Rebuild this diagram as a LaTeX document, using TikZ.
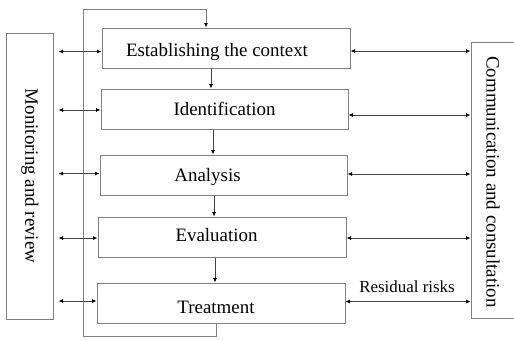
\documentclass[tikz,border=0pt]{standalone}
\usepackage{fontspec}
\setmainfont{Liberation Serif}
\usetikzlibrary{arrows.meta}
\definecolor{boxgray}{gray}{0.5}
\definecolor{linegray}{gray}{0.25}

\begin{document}
\begin{tikzpicture}[x=1bp,y=-1bp,
	stepbox/.style={draw=boxgray,line width=1bp,minimum width=248bp,minimum height=40bp,inner sep=0pt},
	sidebox/.style={draw=boxgray,line width=1bp,inner sep=0pt},
	steptext/.style={font=\fontsize{19}{22}\selectfont,inner sep=0pt},
	link/.style={draw=linegray,line width=0.8bp,{Latex[length=4.5bp,width=4bp,color=black]}-{Latex[length=4.5bp,width=4bp,color=black]}},
	flow/.style={draw=linegray,line width=0.8bp,-{Latex[length=4.5bp,width=4bp,color=black]}}]
		\useasboundingbox (0,0) rectangle (514,339);
		\clip (0,0) rectangle (514,339);

		\node[stepbox,label={[steptext,xshift=-9bp,yshift=-3.5bp]center:Establishing the context}] (Ctx) at (226,48) {};
		\node[stepbox,minimum width=247bp,label={[steptext]center:Identification}] (Idf) at (224.5,109) {};
		\node[stepbox,minimum width=247bp,label={[steptext,xshift=-16bp,yshift=-2bp]center:Analysis}] (Ana) at (223.5,175) {};
		\node[stepbox,label={[steptext,xshift=-5.5bp,yshift=2bp]center:Evaluation}] (Eva) at (222,237) {};
		\node[stepbox,label={[steptext,xshift=-5bp,yshift=-4bp]center:Treatment}] (Trt) at (221,303) {};

		\node[sidebox,minimum width=46bp,minimum height=286bp,label={[steptext,rotate=-90]center:Monitoring and review}] (Mon) at (30,176) {};
		% right side runs off the page
		\node[sidebox,minimum width=50bp,minimum height=276bp,label={[steptext,xshift=-3bp,yshift=-2bp,rotate=-90]center:Communication and consultation}] (Com) at (496,180) {};

		% outer loop back to the first step
		\coordinate (LoopBL) at (83,336);
		\coordinate (LoopTL) at (83,9);
		\draw[flow,draw=boxgray,line width=1bp] (Trt.south -| 216,0) |- (LoopBL) -- (LoopTL) -| (Ctx.north -| 206,0);

		\draw[flow] (Ctx.south -| 211,0) -- (Idf.north -| 211,0);
		\draw[flow] (Idf.south -| 213,0) -- (Ana.north -| 213,0);
		\draw[flow] (Ana.south -| 214,0) -- (Eva.north -| 214,0);
		\draw[flow] (Eva.south -| 215,0) -- (Trt.north -| 215,0);

		\foreach \b/\yl/\yr in {Ctx/51.5/51,Idf/110/115,Ana/173.5/174,Eva/238/238,Trt/301/301.5}
		{
			\draw[link] ([xshift=5bp]Mon.east |- 0,\yl) -- (\b.west |- 0,\yl);
			\draw[link] (\b.east |- 0,\yr) -- (Com.west |- 0,\yr);
		}
		\node[font=\fontsize{17}{20}\selectfont,inner sep=0pt] (Res) at (407,287) {Residual risks};
\end{tikzpicture}
\end{document}
